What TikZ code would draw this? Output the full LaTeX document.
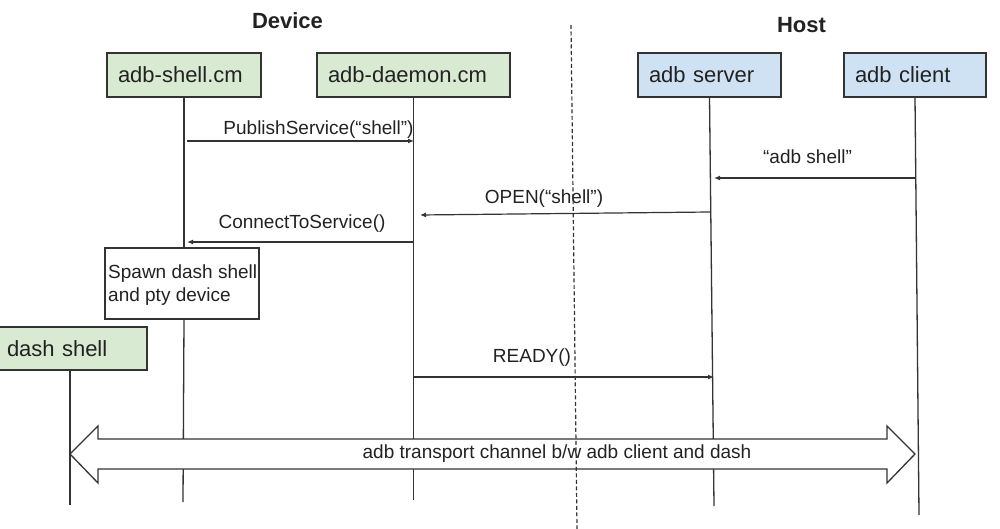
\documentclass[tikz,border=0pt]{standalone}
\usepackage{fontspec}
\setmainfont{Liberation Sans}
\usetikzlibrary{arrows.meta,calc}
\definecolor{gfill}{HTML}{D9EAD3}
\definecolor{bfill}{HTML}{CFE2F3}
\definecolor{edge}{HTML}{333333}
\definecolor{ink}{HTML}{222222}
\begin{document}
\begin{tikzpicture}[x=1pt,y=-1pt,
  actor/.style={draw=edge,line width=1.3pt,anchor=north west,minimum height=44pt,
    inner xsep=11pt,inner ysep=0pt,outer sep=0pt,align=left,text=ink,
    font=\fontsize{22}{26}\selectfont},
  gact/.style={actor,fill=gfill},
  bact/.style={actor,fill=bfill},
  life/.style={draw=edge,line width=1.3pt},
  msg/.style={draw=edge,line width=1.2pt,-{Latex[length=6pt,width=5pt]}},
  lbl/.style={text=ink,font=\fontsize{19}{23}\selectfont,inner sep=0pt},
  head/.style={text=ink,font=\bfseries\fontsize{22}{26}\selectfont,inner sep=0pt}]
\useasboundingbox (0,0) rectangle (1000,529);

% headings
\node[head] (device) at (287.5,21) {Device};
\node[head] (host) at (801.5,25) {Host};

% actors
\node[gact,text width=132pt] (shell) at (107,53) {adb-shell.cm};
\node[gact,text width=171pt] (daemon) at (317,53) {adb-daemon.cm};
\node[bact,text width=121pt] (server) at (638,53) {adb server};
\node[bact,text width=120pt] (client) at (844,53) {adb client};
\node[draw=edge,line width=1.3pt,anchor=north west,minimum width=154pt,minimum height=71pt,
  inner sep=0pt,outer sep=0pt] (spawn) at (105,248) {};
\node[anchor=north west,align=left,inner sep=0pt,text=ink,
  font=\fontsize{19}{23}\selectfont] (spawntxt) at ($(spawn.north west)+(3,17)$)
  {Spawn dash shell\\and pty device};
\node[gact,text width=129pt,minimum height=43pt] (dash) at (-4,327) {dash shell};

% lifeline coordinates
\coordinate (shellA) at (shell.south |- spawn.north);
\coordinate (shellB) at (shell.south |- spawn.south);
\coordinate (shellE) at (183,502);
\coordinate (daemonE) at (413.5,500);
\coordinate (serverE) at (714,506);
\coordinate (clientE) at (919,515);
\coordinate (dashE) at (70,505);
\coordinate (dashS) at (dash.south -| dashE);

\draw[life] (shell.south) -- (shellA);
\draw[life] (shellB) -- (shellE);
\draw[life] (daemon.south) -- (daemonE);
\draw[life] (server.south) -- (serverE);
\draw[life] (client.south) -- (clientE);
\draw[life] (dashS) -- (dashE);

% message endpoints
\coordinate (p1) at (187,141);   \coordinate (p2) at (414,141);
\coordinate (c1) at (915,178);   \coordinate (c2) at (714,178);
\coordinate (o1) at (710,212);   \coordinate (o2) at (420,215);
\coordinate (k1) at (414,242);   \coordinate (k2) at (187,242);
\coordinate (r1) at (414,377);   \coordinate (r2) at (714,377);

\draw[msg] (p1) -- (p2);
\draw[msg] (c1) -- (c2);
\draw[msg] (o1) -- (o2);
\draw[msg] (k1) -- (k2);
\draw[msg] (r1) -- (r2);

\node[lbl] (lp) at (318.5,130) {PublishService(“shell”)};
\node[lbl] (lc) at (807.5,157) {“adb shell”};
\node[lbl] (lo) at (544,199) {OPEN(“shell”)};
\node[lbl] (lk) at (302,224) {ConnectToService()};
\node[lbl] (lr) at (532,358) {READY()};

% transport double arrow
\draw[draw=edge,line width=1.3pt,fill=white,line join=miter]
  (70,454) -- (98,426) -- (98,439) -- (887,439) -- (887,426) -- (915,454)
  -- (887,483) -- (887,469) -- (98,469) -- (98,483) -- cycle;
\node[lbl] (lt) at (557,454) {adb transport channel b/w adb client and dash};

% device / host separator
\coordinate (sepT) at (571,25);
\coordinate (sepB) at (577,529);
\draw[draw=edge,line width=1.2pt,dash pattern=on 4pt off 2.5pt] (sepT) -- (sepB);
\end{tikzpicture}
\end{document}
